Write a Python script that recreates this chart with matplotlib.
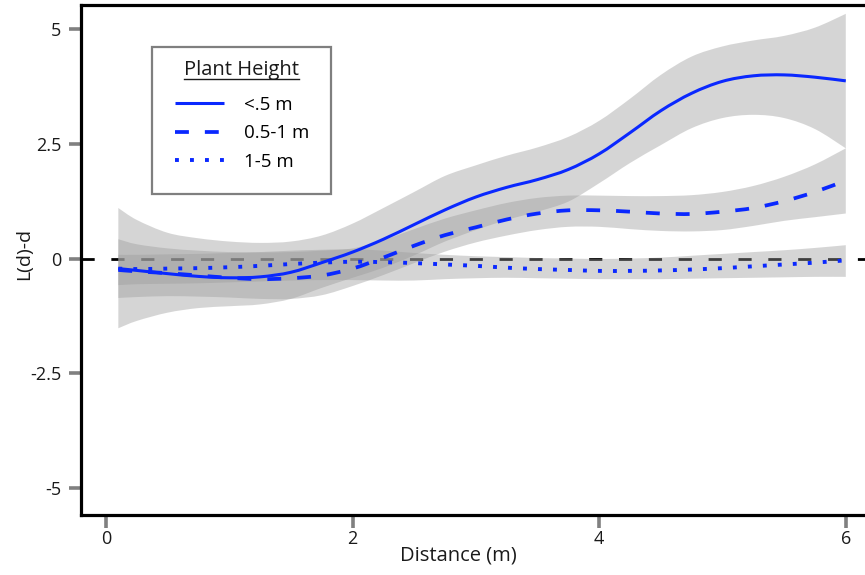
import matplotlib
matplotlib.use("Agg")
import matplotlib.pyplot as plt
from matplotlib.lines import Line2D
from matplotlib.path import Path
from matplotlib.patches import PathPatch, Rectangle
import numpy as np

plt.rcParams['font.family'] = ['Open Sans', 'DejaVu Sans']
plt.rcParams['lines.scale_dashes'] = False

# ---- data ----
distance = [0.1, 0.25, 0.5, 0.75, 1.0, 1.25, 1.5, 1.75, 2.0, 2.25, 2.5, 2.75, 3.0,
            3.25, 3.5, 3.75, 4.0, 4.25, 4.5, 4.75, 5.0, 5.25, 5.5, 5.75, 6.0]

short_mean = [-0.22, -0.26, -0.33, -0.39, -0.42, -0.40, -0.30, -0.09, 0.14, 0.42, 0.74, 1.06, 1.34,
              1.55, 1.72, 1.94, 2.28, 2.74, 3.22, 3.60, 3.86, 3.98, 4.00, 3.95, 3.87]
short_lo = [-1.52, -1.36, -1.18, -1.08, -1.04, -1.00, -0.88, -0.64, -0.42, -0.20, 0.07, 0.37, 0.62,
            0.84, 1.02, 1.24, 1.64, 2.08, 2.47, 2.84, 3.06, 3.13, 3.06, 2.82, 2.40]
short_hi = [1.10, 0.84, 0.56, 0.44, 0.37, 0.34, 0.37, 0.50, 0.76, 1.10, 1.45, 1.80, 2.03,
            2.24, 2.42, 2.65, 3.00, 3.48, 4.00, 4.40, 4.62, 4.75, 4.85, 5.03, 5.33]

mid_mean = [-0.25, -0.28, -0.32, -0.37, -0.42, -0.45, -0.43, -0.37, -0.22, 0.02, 0.28, 0.51, 0.68,
            0.85, 0.98, 1.05, 1.05, 1.02, 0.98, 0.97, 1.02, 1.10, 1.25, 1.45, 1.70]
mid_lo = [-0.86, -0.84, -0.82, -0.83, -0.85, -0.88, -0.88, -0.80, -0.60, -0.36, -0.10, 0.15, 0.35,
          0.50, 0.62, 0.69, 0.69, 0.64, 0.60, 0.59, 0.62, 0.71, 0.82, 0.90, 0.98]
mid_hi = [0.42, 0.31, 0.22, 0.17, 0.14, 0.13, 0.14, 0.17, 0.22, 0.40, 0.64, 0.87, 1.05,
          1.21, 1.32, 1.37, 1.37, 1.36, 1.36, 1.38, 1.45, 1.58, 1.78, 2.05, 2.40]

tall_mean = [-0.22, -0.23, -0.22, -0.21, -0.19, -0.16, -0.12, -0.09, -0.07, -0.08, -0.10, -0.13, -0.16,
             -0.20, -0.23, -0.25, -0.27, -0.27, -0.26, -0.24, -0.21, -0.17, -0.13, -0.09, -0.04]
tall_lo = [-0.58, -0.56, -0.55, -0.54, -0.52, -0.50, -0.48, -0.47, -0.47, -0.48, -0.48, -0.45, -0.43,
           -0.42, -0.43, -0.44, -0.45, -0.45, -0.45, -0.44, -0.43, -0.42, -0.41, -0.40, -0.40]
tall_hi = [0.08, 0.08, 0.09, 0.10, 0.12, 0.14, 0.17, 0.19, 0.20, 0.17, 0.12, 0.08, 0.05,
           0.03, 0.01, 0.00, -0.01, 0.00, 0.02, 0.06, 0.10, 0.14, 0.18, 0.23, 0.29]

series_labels = ['<.5 m', '0.5-1 m', '1-5 m']
legend_title = 'Plant Height'
x_ticks = [0, 2, 4, 6]
y_ticks = [-5, -2.5, 0, 2.5, 5]
y_ticklabels = ['-5', '-2.5', '0', '2.5', '5']


def bezier_parts(x, y):
    """Catmull-Rom spline through the points as cubic Bezier control points."""
    p = np.column_stack([x, y]).astype(float)
    n = len(p)
    verts = [p[0]]
    for i in range(n - 1):
        p0 = p[i - 1] if i > 0 else p[i]
        p3 = p[i + 2] if i + 2 < n else p[i + 1]
        c1 = p[i] + (p[i + 1] - p0) / 6.0
        c2 = p[i + 1] - (p3 - p[i]) / 6.0
        verts += [c1, c2, p[i + 1]]
    return verts


def curve_path(x, y):
    v = bezier_parts(x, y)
    codes = [Path.MOVETO] + [Path.CURVE4] * (len(v) - 1)
    return Path(v, codes)


def band_path(x, lo, hi):
    vu = bezier_parts(x, hi)
    vl = bezier_parts(x[::-1], lo[::-1])
    verts = vu + vl + [vu[0]]
    codes = ([Path.MOVETO] + [Path.CURVE4] * (len(vu) - 1) +
             [Path.LINETO] + [Path.CURVE4] * (len(vl) - 1) + [Path.CLOSEPOLY])
    return Path(verts, codes)


# ---- figure ----
W, H = 865, 575
fig = plt.figure(figsize=(W / 100, H / 100), dpi=100)
ax_l, ax_r, ax_t, ax_b = 81, 866, 5, 515
ax = fig.add_axes([ax_l / W, 1 - ax_b / H, (ax_r - ax_l) / W, (ax_b - ax_t) / H])

px_x = 123.3
px_y = 45.9
ax.set_xlim((ax_l - 106) / px_x, (ax_r - 106) / px_x)
ax.set_ylim(-5 - (ax_b - 488) / px_y, 5 + (29 - ax_t) / px_y)

blue = '#0a28ff'
band_col = '#9b9b9b'
band_alpha = 0.41
txt_col = '#1a1a1a'

ax.axhline(0, color='black', lw=2.0, ls=(0, (9.5, 12)), zorder=1)

xs = list(distance)
for lo, hi in [(short_lo, short_hi), (mid_lo, mid_hi), (tall_lo, tall_hi)]:
    ax.add_patch(PathPatch(band_path(xs, list(lo), list(hi)), facecolor=band_col,
                           alpha=band_alpha, lw=0, zorder=2, transform=ax.transData))

styles = [dict(lw=2.2, ls='-'),
          dict(lw=2.7, ls=(0, (10, 11.5))),
          dict(lw=2.8, ls=(0, (2.8, 8)))]
handles = []
for ys, st in zip([short_mean, mid_mean, tall_mean], styles):
    pp = PathPatch(curve_path(xs, ys), fill=False, edgecolor=blue, lw=st['lw'],
                   linestyle=st['ls'], zorder=4, transform=ax.transData)
    pp.set_capstyle('butt')
    ax.add_patch(pp)
    handles.append(Line2D([], [], color=blue, lw=st['lw'], ls=st['ls'],
                          dash_capstyle='butt', solid_capstyle='butt'))

for s in ['left', 'bottom', 'top']:
    ax.spines[s].set_linewidth(2.3)
    ax.spines[s].set_color('black')
ax.spines['right'].set_visible(False)

FS = 13.5
ax.set_xticks(x_ticks)
ax.set_xticklabels([str(t) for t in x_ticks])
ax.set_yticks(y_ticks)
ax.set_yticklabels(y_ticklabels)
ax.tick_params(axis='both', color='#808080', width=2.6, length=9, labelsize=13,
               labelcolor=txt_col)
ax.tick_params(axis='y', pad=5)
ax.tick_params(axis='x', pad=2)

ax.set_xlabel('Distance (m)', fontsize=14.5, color=txt_col)
ax.xaxis.set_label_coords((458 - ax_l) / (ax_r - ax_l), -(555 - ax_b) / (ax_b - ax_t))
ax.xaxis.label.set_va('center')
ax.set_ylabel('L(d)-d', fontsize=14, color=txt_col)
ax.yaxis.set_label_coords((33 - ax_l) / (ax_r - ax_l), (ax_b - 254) / (ax_b - ax_t))

# legend frame (pixel box from the reference) and title, drawn inside the axes
box_l, box_t, box_r, box_bm = 152, 47, 331, 194
frame = Rectangle((box_l / W, 1 - box_bm / H), (box_r - box_l) / W, (box_bm - box_t) / H,
                  transform=fig.transFigure, facecolor='white', edgecolor='#7f7f7f',
                  lw=1.6, zorder=5, clip_on=False)
ax.add_artist(frame)
title = ax.text(241 / W, 1 - 70 / H, legend_title, ha='center', va='center', fontsize=14.5,
                color=txt_col, zorder=6, transform=fig.transFigure, clip_on=False)


def make_legend(anchor, spacing):
    lg = ax.legend(handles, series_labels, loc='upper left', bbox_to_anchor=anchor,
                   bbox_transform=fig.transFigure, borderaxespad=0, borderpad=0,
                   fontsize=FS, frameon=False, handlelength=2.6, handletextpad=1.1,
                   labelspacing=spacing)
    lg.set_zorder(7)
    return lg


target_rows = [105, 133, 162]
target_handle_left = 175
spacing = 0.3
anchor = [target_handle_left / W, 1 - 92 / H]
leg = make_legend(tuple(anchor), spacing)
fs_px = FS * 100 / 72
for _ in range(3):
    fig.canvas.draw()
    ts = leg.get_texts()
    ys = [H - 0.5 * (t.get_window_extent().y0 + t.get_window_extent().y1) for t in ts]
    step = (ys[-1] - ys[0]) / 2.0
    want_step = (target_rows[-1] - target_rows[0]) / 2.0
    spacing += (want_step - step) / fs_px
    hl = leg.legend_handles[0].get_window_extent()
    anchor[0] += (target_handle_left - hl.x0) / W
    anchor[1] += (ys[0] - target_rows[0]) / H
    leg.remove()
    leg = make_legend(tuple(anchor), spacing)

fig.canvas.draw()
tb = title.get_window_extent()
ax.add_artist(Line2D([tb.x0 / W, tb.x1 / W], [(tb.y0 + 1) / H, (tb.y0 + 1) / H],
                     color=txt_col, lw=1.0, transform=fig.transFigure, zorder=6, clip_on=False))

fig.savefig('out.png', dpi=100)
